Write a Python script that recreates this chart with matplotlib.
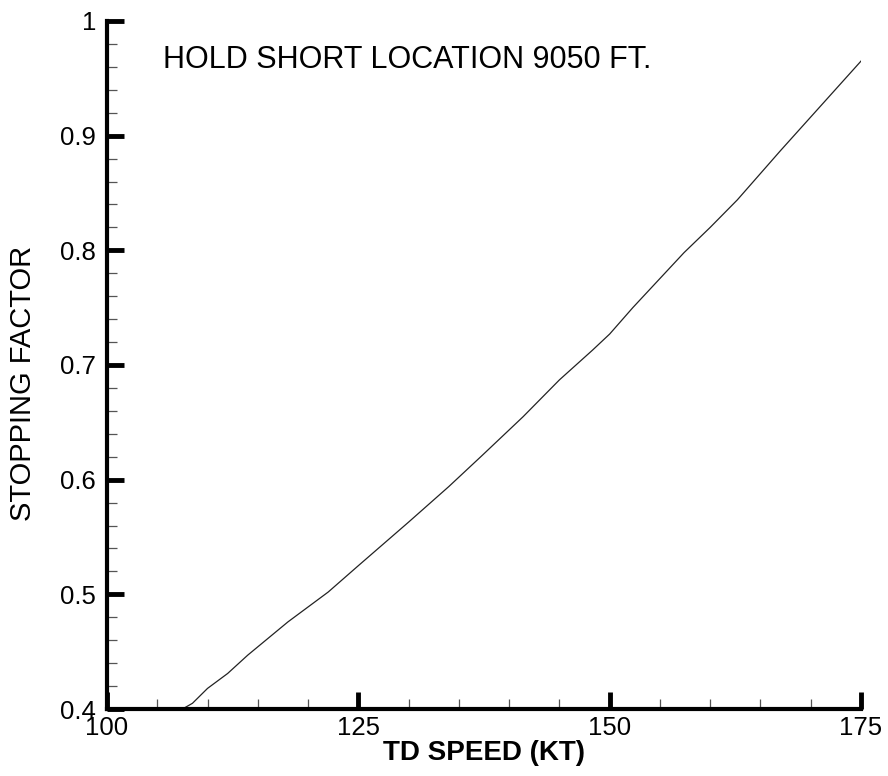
import matplotlib
matplotlib.use("Agg")
import matplotlib.pyplot as plt
from matplotlib.ticker import MultipleLocator

plt.rcParams['font.family'] = ['Liberation Sans', 'DejaVu Sans']

td_speed = [107.5, 108.5, 110.0, 112.0, 114.0, 118.0, 122.0, 125.0, 130.0, 134.0,
            137.3, 141.4, 145.0, 148.3, 150.0, 152.3, 157.4, 160.0, 162.7, 167.0, 175.0]
stopping_factor = [0.400, 0.405, 0.418, 0.431, 0.447, 0.476, 0.502, 0.525, 0.563, 0.594,
                   0.621, 0.655, 0.687, 0.713, 0.727, 0.750, 0.798, 0.820, 0.844, 0.887, 0.965]

x_ticks = [100, 125, 150, 175]
y_ticks = [0.4, 0.5, 0.6, 0.7, 0.8, 0.9, 1.0]
y_tick_labels = ["0.4", "0.5", "0.6", "0.7", "0.8", "0.9", "1"]
title_text = "HOLD SHORT LOCATION 9050 FT."

fig = plt.figure(figsize=(8.88, 7.76), dpi=100)
ax = fig.add_axes([0.1205, 0.0863, 0.8491, 0.8867])

ax.plot(td_speed, stopping_factor, color='#222222', linewidth=0.9)

ax.set_xlim(100, 175)
ax.set_ylim(0.4, 1.0)
ax.set_xticks(x_ticks)
ax.set_xticklabels([str(t) for t in x_ticks])
ax.set_yticks(y_ticks)
ax.set_yticklabels(y_tick_labels)
ax.xaxis.set_minor_locator(MultipleLocator(5))
ax.yaxis.set_minor_locator(MultipleLocator(0.02))

for s in ['top', 'right']:
    ax.spines[s].set_visible(False)
for s in ['left', 'bottom']:
    ax.spines[s].set_linewidth(3.0)
    ax.spines[s].set_capstyle('projecting')

ax.tick_params(which='major', direction='in', length=12, width=3.5, labelsize=18.5, color='black')
ax.tick_params(axis='y', which='major', pad=8)
ax.tick_params(axis='x', which='major', pad=5)
ax.tick_params(which='minor', direction='in', length=7, width=0.9, color='#555555')

ax.set_xlabel("TD SPEED (KT)", fontsize=20, fontweight='bold', labelpad=0)
fig.text(23 / 888, 1 - 383 / 776, "STOPPING FACTOR", fontsize=21,
         rotation=90, ha='center', va='center')

ax.text(105.6, 0.959, title_text, fontsize=22, ha='left', va='baseline')

fig.savefig("out.png", dpi=100)
